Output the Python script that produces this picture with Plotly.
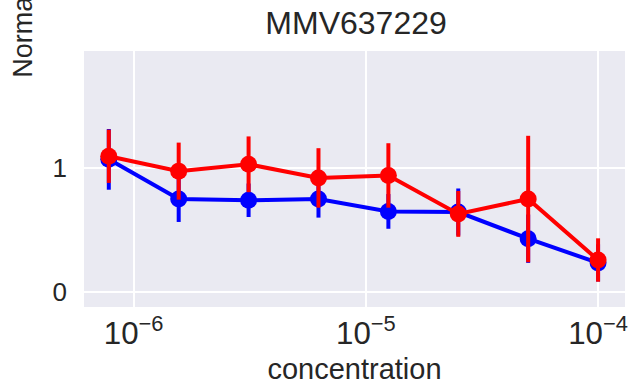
import plotly.graph_objects as go

conc = [7.8125e-7, 1.5625e-6, 3.125e-6, 6.25e-6, 1.25e-5, 2.5e-5, 5e-5, 1e-4]
blue_y = [1.07, 0.75, 0.74, 0.75, 0.65, 0.645, 0.43, 0.235]
blue_err = [0.245, 0.185, 0.135, 0.15, 0.14, 0.19, 0.195, 0.15]
red_y = [1.095, 0.975, 1.03, 0.92, 0.94, 0.63, 0.75, 0.258]
red_err = [0.215, 0.23, 0.225, 0.24, 0.26, 0.185, 0.51, 0.175]

title = "MMV637229"
xlabel = "concentration"
ylabel = "Normalized response"

font = "Liberation Sans, Arial, sans-serif"
fcol = "#262626"

fig = go.Figure()
for y, e, c in [(blue_y, blue_err, "#0000FF"), (red_y, red_err, "#FF0000")]:
    fig.add_trace(go.Scatter(
        x=conc, y=y, mode="lines+markers",
        line=dict(color=c, width=4),
        marker=dict(color=c, size=17),
        error_y=dict(type="data", array=e, visible=True, color=c, thickness=4, width=0),
        showlegend=False,
    ))

fig.update_layout(
    width=628, height=389,
    margin=dict(l=84, r=0, t=51, b=82),
    paper_bgcolor="white", plot_bgcolor="#EAEAF2",
    font=dict(family=font, size=26, color=fcol),
    title=dict(text=title, x=0.567, xanchor="center", y=1 - 23/389, yanchor="middle",
               font=dict(size=32, color=fcol)),
    xaxis=dict(type="log", range=[-6.214, -3.884], dtick=1, exponentformat="power",
               showgrid=True, gridcolor="white", gridwidth=2, zeroline=False,
               ticks="", tickfont=dict(size=25), ticklabelstandoff=5,
               ticklabeloverflow="allow",
               title=dict(text=xlabel, font=dict(size=29), standoff=8)),
    yaxis=dict(range=[-0.121, 1.944], dtick=1, showgrid=True, gridcolor="white", gridwidth=2,
               zeroline=False, ticks="", tickfont=dict(size=26), ticklabelstandoff=16),
    annotations=[dict(text=ylabel, textangle=-90, xref="paper", yref="paper",
                      x=(22 - 84) / 544, y=(307 - 80) / 256, xanchor="center", yanchor="bottom",
                      showarrow=False, font=dict(size=27, color=fcol))],
)

fig.write_html("out.html")
